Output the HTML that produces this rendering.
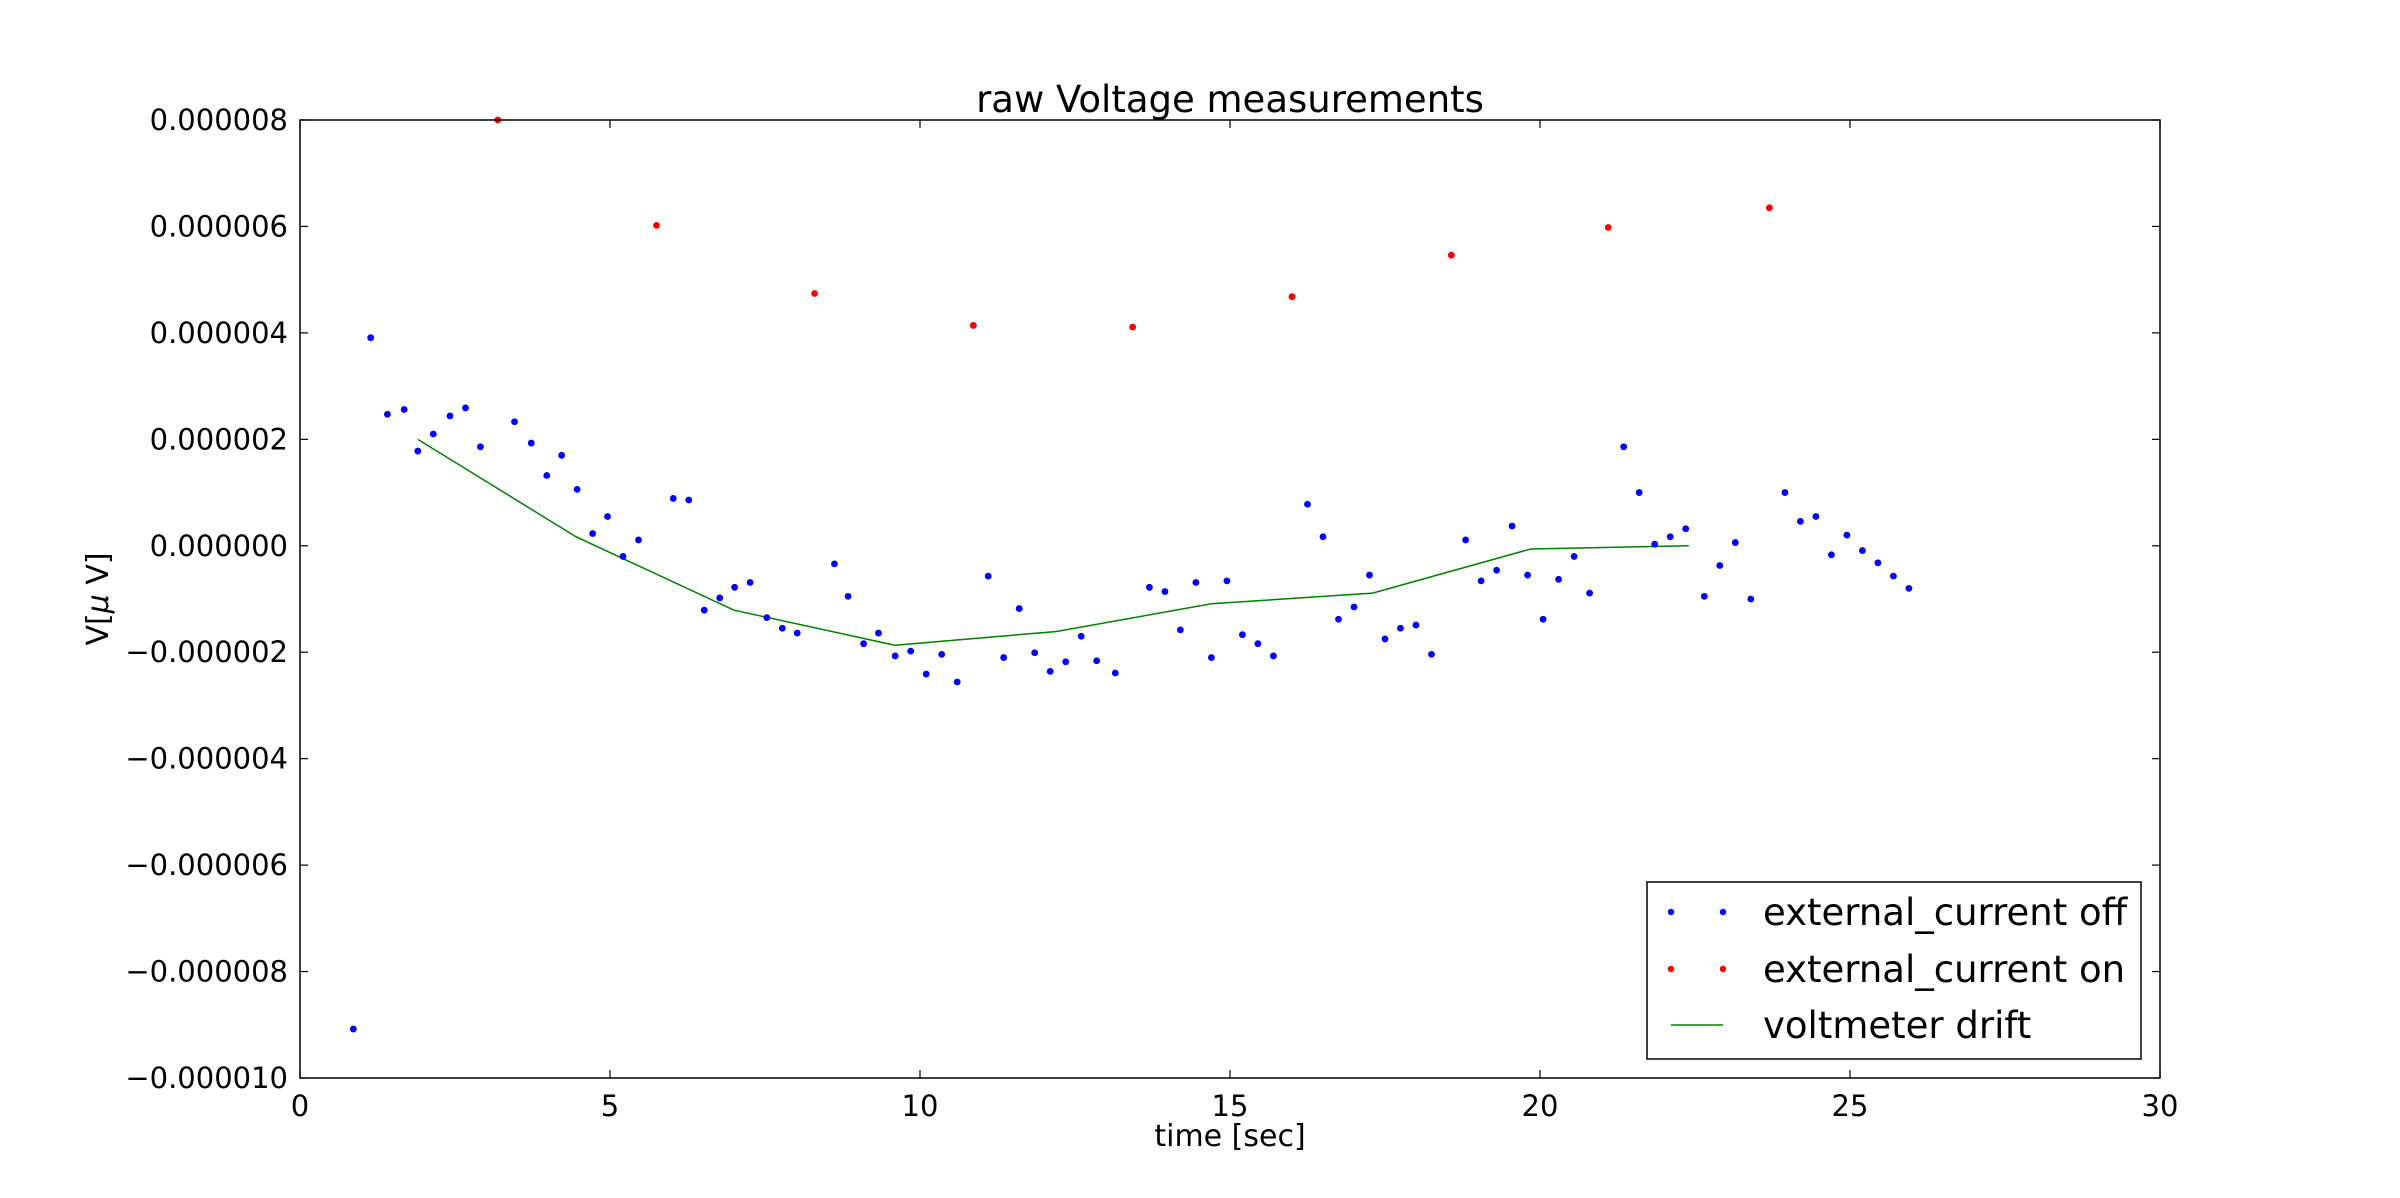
<!DOCTYPE html>
<html><head><meta charset="utf-8"><style>
html,body{margin:0;padding:0;background:#fff;}
svg{display:block;font-family:"DejaVu Sans","Liberation Sans",sans-serif;}
</style></head><body>
<svg id="chart" width="2400" height="1198" viewBox="0 0 2400 1198" xmlns="http://www.w3.org/2000/svg">
<rect width="2400" height="1198" fill="#fff"/>
<g id="marks"></g>
<rect x="300" y="120" width="1860" height="958" fill="none" stroke="#000" stroke-width="1.5"/>
<g id="ticks"></g>
<text x="1230" y="112" font-size="37" text-anchor="middle">raw Voltage measurements</text>
<text x="1230" y="1146" font-size="30" text-anchor="middle">time [sec]</text>
<text transform="translate(108,599) rotate(-90)" font-size="30" text-anchor="middle">V[<tspan font-style="italic">μ</tspan> V]</text>
<g>
<rect x="1647" y="882" width="494" height="177" fill="#fff" stroke="#000" stroke-width="1.5"/>
<circle cx="1671" cy="912" r="3.2" fill="#0000ff"/><circle cx="1723" cy="912" r="3.2" fill="#0000ff"/>
<text x="1763" y="925" font-size="37">external_current off</text>
<circle cx="1671" cy="969" r="3.2" fill="#ff0000"/><circle cx="1723" cy="969" r="3.2" fill="#ff0000"/>
<text x="1763" y="982" font-size="37">external_current on</text>
<line x1="1671" y1="1025" x2="1723" y2="1025" stroke="#008000" stroke-width="1.5"/>
<text x="1763" y="1038" font-size="37">voltmeter drift</text>
</g>
</svg>
<script>
const offX=[0.86,1.14,1.41,1.68,1.9,2.15,2.42,2.67,2.91,3.46,3.73,3.98,4.22,4.47,4.72,4.96,5.21,5.46,6.02,6.27,6.52,6.77,7.01,7.26,7.53,7.78,8.02,8.62,8.84,9.09,9.33,9.6,9.85,10.1,10.35,10.6,11.1,11.35,11.6,11.85,12.1,12.35,12.6,12.85,13.15,13.7,13.95,14.2,14.45,14.7,14.95,15.2,15.45,15.7,16.25,16.5,16.75,17.0,17.25,17.5,17.75,18.0,18.25,18.8,19.05,19.3,19.55,19.8,20.05,20.3,20.55,20.8,21.35,21.6,21.85,22.1,22.35,22.65,22.9,23.15,23.4,23.95,24.2,24.45,24.7,24.95,25.2,25.45,25.7,25.95];
const offY=[-9.08,3.91,2.47,2.56,1.78,2.1,2.44,2.59,1.86,2.33,1.93,1.32,1.7,1.06,0.23,0.55,-0.2,0.11,0.89,0.86,-1.21,-0.98,-0.78,-0.69,-1.35,-1.55,-1.64,-0.34,-0.95,-1.84,-1.64,-2.07,-1.98,-2.41,-2.04,-2.56,-0.57,-2.1,-1.18,-2.01,-2.36,-2.18,-1.7,-2.16,-2.39,-0.78,-0.86,-1.58,-0.69,-2.1,-0.66,-1.67,-1.84,-2.07,0.78,0.17,-1.38,-1.15,-0.55,-1.75,-1.55,-1.49,-2.04,0.11,-0.66,-0.46,0.37,-0.55,-1.38,-0.63,-0.2,-0.89,1.86,1.0,0.03,0.17,0.32,-0.95,-0.37,0.06,-1.0,1.0,0.46,0.55,-0.17,0.2,-0.09,-0.32,-0.57,-0.8];
const onX=[3.19,5.75,8.3,10.86,13.43,16.0,18.57,21.1,23.7];
const onY=[8.0,6.02,4.74,4.14,4.11,4.68,5.46,5.98,6.35];
const driftX=[1.9,4.45,7.0,9.6,12.2,14.7,17.3,19.85,22.4];
const driftY=[2.0,0.17,-1.21,-1.87,-1.61,-1.09,-0.89,-0.06,0.0];
const xTicks=[0,5,10,15,20,25,30];
const xTickLabels=["0","5","10","15","20","25","30"];
const yTicks=[8,6,4,2,0,-2,-4,-6,-8,-10];
const yTickLabels=["0.000008","0.000006","0.000004","0.000002","0.000000","\u22120.000002","\u22120.000004","\u22120.000006","\u22120.000008","\u22120.000010"];
const X0=300,X1=2160,Y0=1078,Y1=120;
const sx=v=>X0+(v-0)/30*(X1-X0);
const sy=v=>Y0-(v+10)/18*(Y0-Y1);
const NS="http://www.w3.org/2000/svg";
const marks=document.getElementById('marks');
const ticks=document.getElementById('ticks');
function mk(tag,attrs,parent){const e=document.createElementNS(NS,tag);for(const k in attrs)e.setAttribute(k,attrs[k]);parent.appendChild(e);return e;}
let pts=driftX.map((x,i)=>sx(x)+','+sy(driftY[i])).join(' ');
const pl=mk('polyline',{points:pts,fill:'none',stroke:'#008000','stroke-width':1.5},marks);


offX.forEach((x,i)=>{const c=mk('circle',{cx:sx(x),cy:sy(offY[i]),r:3.4,fill:'#0000ff'},marks);

});
onX.forEach((x,i)=>{const c=mk('circle',{cx:sx(x),cy:sy(onY[i]),r:3.4,fill:'#ff0000'},marks);

});
xTicks.forEach((v,i)=>{const x=sx(v);
mk('line',{x1:x,y1:Y0,x2:x,y2:Y0-8,stroke:'#000','stroke-width':1.2},ticks);
mk('line',{x1:x,y1:Y1,x2:x,y2:Y1+8,stroke:'#000','stroke-width':1.2},ticks);
const t=mk('text',{x:x,y:Y0+38,'font-size':29,'text-anchor':'middle'},ticks);t.textContent=xTickLabels[i];

});
yTicks.forEach((v,i)=>{const y=sy(v);
mk('line',{x1:X0,y1:y,x2:X0+8,y2:y,stroke:'#000','stroke-width':1.2},ticks);
mk('line',{x1:X1,y1:y,x2:X1-8,y2:y,stroke:'#000','stroke-width':1.2},ticks);
const t=mk('text',{x:X0-12,y:y+10,'font-size':29,'text-anchor':'end'},ticks);t.textContent=yTickLabels[i];

});
</script>
</body></html>
